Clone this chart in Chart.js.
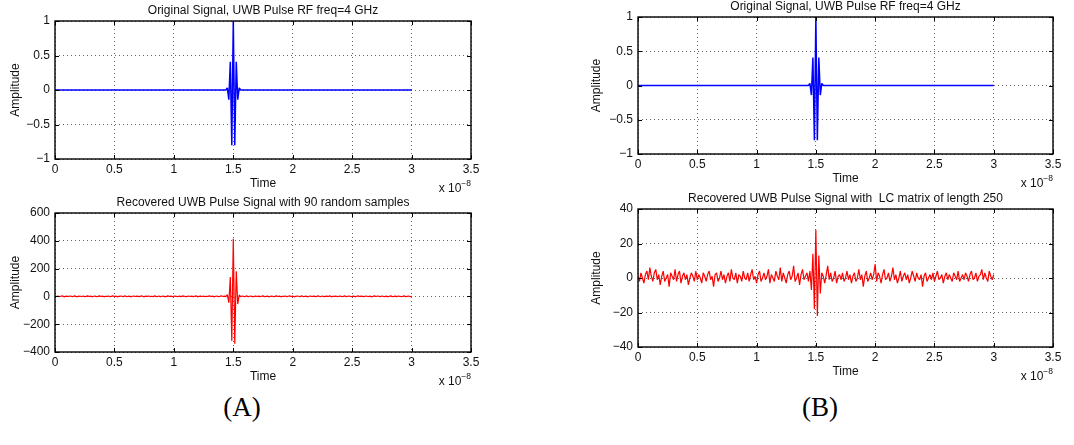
<!DOCTYPE html>
<html>
<head>
<meta charset="utf-8">
<script src="https://cdn.jsdelivr.net/npm/chart.js@4.4.1/dist/chart.umd.min.js"></script>
<style>
    body { margin: 0; background: #fff; width: 1074px; height: 445px; overflow: hidden; position: relative; }
    canvas { position: absolute; }
    .cap { position: absolute; top: 392px; font-family: "Liberation Serif", "DejaVu Serif", serif; font-size: 27px; color: #000; transform: translateX(-50%); }
</style>
</head>
<body>
<canvas id="plotA1"></canvas>
<canvas id="plotA2"></canvas>
<canvas id="plotB1"></canvas>
<canvas id="plotB2"></canvas>
<div class="cap" style="left:242px">(A)</div>
<div class="cap" style="left:820px">(B)</div>

<script>
// time in units of 1e-8 s, signal sampled every 0.0125 (8 GHz)
const sampleStep = 0.0125;

const titleOriginal = "Original Signal, UWB Pulse RF freq=4 GHz";
const titleRecA = "Recovered UWB Pulse Signal with 90 random samples";
const titleRecB = "Recovered UWB Pulse Signal with  LC matrix of length 250";

const xTickValues = [0, 0.5, 1, 1.5, 2, 2.5, 3, 3.5];
const yTicksOriginal = [-1, -0.5, 0, 0.5, 1];
const yTicksRecA = [-400, -200, 0, 200, 400, 600];
const yTicksRecB = [-40, -20, 0, 20, 40];

// original pulse (flat zero outside 1.4375..1.5625)
const pulseTime = [0, 1.4375, 1.45, 1.4625, 1.475, 1.4875, 1.5, 1.5125, 1.525, 1.5375, 1.55, 1.5625, 3];
const pulseAmp = [0, 0, 0.03, -0.14, 0.41, -0.8, 1, -0.8, 0.41, -0.14, 0.03, 0, 0];

// recovered signal, 90 random samples (241 samples)
const recoveredA = [
    2, -1, 3, -2, 1, 4, -3, 0, 2, -1, 3, 1, -2, 4, 0, -3, 2, 1, -1, 3,
    -2, 0, 4, -1, 2, -3, 1, 3, -2, 0, 5, -1, 2, -3, 1, 0, 3, -2, 1, 4,
    -1, 2, -3, 0, 3, 1, -2, 4, -1, 0, 2, -3, 1, 3, -1, 2, 0, -2, 4, 1,
    -3, 2, 0, 3, -1, 1, -2, 4, 0, -1, 3, -2, 1, 2, -3, 0, 4, -1, 2, -2,
    1, 3, -1, 0, 2, -3, 4, 1, -2, 0, 3, -1, 2, -2, 1, 4, -3, 0, 2, -1,
    3, -2, 1, 0, 4, -1, 2, -3, 1, 3, -2, 0, 5, -1, 2, -2,
    12, -45, 140, -320, 415, -340, 180, -55, 10,
    -2, 3, 0, -1, 4, -2, 1, 2, -3, 0, 3, -1, 2, -2, 1,
    4, -1, 0, 2, -3, 1, 3, -2, 0, 4, -1, 2, -3, 1, 0, 3, -2, 1, 4, -1,
    2, -3, 0, 3, 1, -2, 4, -1, 0, 2, -3, 1, 3, -1, 2, 0, -2, 4, 1, -1,
    3, -2, 0, 2, -1, 4, -3, 1, 0, 3, -2, 1, 2, -1, 0, 4, -2, 1, 3, -1,
    0, 2, -3, 1, 4, -1, 2, 0, -2, 3, 1, -1, 2, -3, 0, 4, -1, 2, 1, -2,
    3, 0, -1, 2, -3, 1, 4, -1, 0, 2, -2, 3, 1, -1, 0, 4, -2, 1, 2, -1, 0
];

// recovered signal, LC matrix of length 250 (241 samples)
const recoveredB = [
    1, -2, 3, 0, -3, 2, 4, -1, 6, 1, -2, 3, 5, -1, 2, -4, 1, 4, -2, 0,
    2, -5, 3, 1, -1, 5, -2, 2, 4, -3, 1, 3, -1, 2, -4, 0, 3, 1, -2, 4,
    -1, 2, 0, -3, 3, 1, -2, 2, 4, -1, 1, -5, 2, 3, -2, 0, 4, -1, 2, -3,
    1, 3, -2, 5, 0, -1, 3, -3, 2, 1, -2, 4, 0, -1, 3, -2, 2, 5, -1, 1,
    -3, 2, 4, -2, 0, 3, -1, 1, 5, -3, 2, 0, -2, 4, 1, -1, 6, -2, 3, 0,
    -3, 2, 4, -1, 1, 7, -2, 0, 3, -4, 2, 5, -1, 1, 3, -2,
    4, -7, 14, -18, 28, -22, 13, -9, 3,
    1, -3, 2, 7, -1, 3, -2, 0, 4, -3, 1, 2, -1, 3, -2,
    0, 4, -1, 2, -3, 1, 3, -2, 0, 5, -1, 2, -5, 1, 4, -2, 0, 3, -1, 2,
    8, -2, 3, 1, -3, 2, 5, -1, 0, 3, -2, 1, 6, -1, 2, -3, 0, 4, -2, 1,
    3, -1, 2, -3, 0, 4, 1, -2, 3, 0, -1, 2, -5, 1, 3, -2, 0, 2, -1, 3,
    -2, 1, 4, -1, 0, 2, -3, 1, 3, -1, 2, 0, -2, 3, 1, -1, 4, -2, 0, 2,
    -1, 3, 1, -2, 2, 4, -1, 0, 3, -2, 1, 2, 5, -1, 3, 0, -2, 4, 1, -1, 2
];

const fontFam = '"Liberation Sans", Arial, Helvetica, sans-serif';
const fontSize = 12;

// box frame with inward ticks, title over the axes, "x 10^-8" like matlab
const matlabBox = {
    id: "matlabBox",
    afterDraw(chart, args, opts) {
        const ctx = chart.ctx;
        const a = chart.chartArea;
        const x = chart.scales.x;
        const y = chart.scales.y;
        ctx.save();
        ctx.strokeStyle = "#000";
        ctx.lineWidth = 1.4;
        ctx.strokeRect(a.left, a.top, a.right - a.left, a.bottom - a.top);
        ctx.lineWidth = 1;
        ctx.beginPath();
        x.ticks.forEach(t => {
            const px = Math.round(x.getPixelForValue(t.value)) + 0.5;
            ctx.moveTo(px, a.bottom); ctx.lineTo(px, a.bottom - 4);
            ctx.moveTo(px, a.top); ctx.lineTo(px, a.top + 4);
        });
        y.ticks.forEach(t => {
            const py = Math.round(y.getPixelForValue(t.value)) + 0.5;
            ctx.moveTo(a.left, py); ctx.lineTo(a.left + 4, py);
            ctx.moveTo(a.right, py); ctx.lineTo(a.right - 4, py);
        });
        ctx.stroke();

        const big = fontSize + "px " + fontFam;
        const small = "8.5px " + fontFam;
        ctx.fillStyle = "#111";

        ctx.font = big;
        ctx.textAlign = "center";
        ctx.textBaseline = "middle";
        ctx.fillText(opts.text, (a.left + a.right) / 2, a.top - 10.5);

        ctx.textAlign = "left";
        ctx.textBaseline = "alphabetic";
        ctx.font = small;
        const ws = ctx.measureText("\u22128").width;
        ctx.font = big;
        const wb = ctx.measureText("x 10").width;
        const by = a.bottom + 33;
        ctx.fillText("x 10", a.right - ws - wb, by);
        ctx.font = small;
        ctx.fillText("\u22128", a.right - ws, by - 6);
        ctx.restore();
    }
};

function fmt(v) {
    return String(v).replace("-", "\u2212");
}

function criarGrafico(id, frame, titulo, pontos, cor, largura, yTicks) {
    const tituloH = 20, eixoXH = 38, dir = 14;
    const canvas = document.getElementById(id);
    canvas.width = frame.yw + (frame.r - frame.l) + dir;
    canvas.height = tituloH + (frame.b - frame.t) + eixoXH;
    canvas.style.left = (frame.l - frame.yw) + "px";
    canvas.style.top = (frame.t - tituloH) + "px";

    return new Chart(canvas, {
        type: "line",
        data: {
            datasets: [{
                data: pontos,
                borderColor: cor,
                borderWidth: largura,
                borderJoinStyle: "bevel",
                pointRadius: 0,
                tension: 0,
                fill: false
            }]
        },
        plugins: [matlabBox],
        options: {
            responsive: false,
            animation: false,
            layout: { padding: { left: 0, right: dir, top: tituloH, bottom: 0 } },
            plugins: {
                legend: { display: false },
                tooltip: { enabled: false },
                title: { display: false },
                matlabBox: { text: titulo }
            },
            scales: {
                x: {
                    type: "linear",
                    min: xTickValues[0],
                    max: xTickValues[xTickValues.length - 1],
                    afterBuildTicks: s => { s.ticks = xTickValues.map(v => ({ value: v })); },
                    afterFit: s => { s.height = eixoXH; },
                    grid: { color: "rgba(0,0,0,0.6)", lineWidth: 1, drawTicks: false },
                    border: { display: false, dash: [1, 3] },
                    ticks: { color: "#111", padding: 3, maxRotation: 0, autoSkip: false,
                        font: { family: fontFam, size: fontSize }, callback: v => fmt(v) },
                    title: { display: true, text: "Time", color: "#111",
                        font: { family: fontFam, size: fontSize }, padding: { top: 0, bottom: 6 } }
                },
                y: {
                    type: "linear",
                    min: yTicks[0],
                    max: yTicks[yTicks.length - 1],
                    afterBuildTicks: s => { s.ticks = yTicks.map(v => ({ value: v })); },
                    afterFit: s => { s.width = frame.yw; },
                    grid: { color: "rgba(0,0,0,0.6)", lineWidth: 1, drawTicks: false },
                    border: { display: false, dash: [1, 3] },
                    ticks: { color: "#111", padding: 5, autoSkip: false,
                        font: { family: fontFam, size: fontSize }, callback: v => fmt(v) },
                    title: { display: true, text: "Amplitude", color: "#111",
                        font: { family: fontFam, size: fontSize }, padding: { top: frame.tp, bottom: 0 } }
                }
            }
        }
    });
}

const pontosOriginal = pulseTime.map((t, i) => ({ x: t, y: pulseAmp[i] }));
const pontosA = recoveredA.map((v, i) => ({ x: i * sampleStep, y: v }));
const pontosB = recoveredB.map((v, i) => ({ x: i * sampleStep, y: v }));

criarGrafico("plotA1", { l: 55, r: 471, t: 21, b: 159, yw: 55, tp: 8.3 }, titleOriginal, pontosOriginal, "#0000ff", 1.5, yTicksOriginal);
criarGrafico("plotA2", { l: 55, r: 471, t: 213, b: 352, yw: 55, tp: 8.3 }, titleRecA, pontosA, "#ff0000", 1.2, yTicksRecA);
criarGrafico("plotB1", { l: 638, r: 1053, t: 17, b: 154, yw: 50, tp: 1.8 }, titleOriginal, pontosOriginal, "#0000ff", 1.5, yTicksOriginal);
criarGrafico("plotB2", { l: 638, r: 1053, t: 209, b: 347, yw: 50, tp: 1.8 }, titleRecB, pontosB, "#ff0000", 1.2, yTicksRecB);
</script>
</body>
</html>
